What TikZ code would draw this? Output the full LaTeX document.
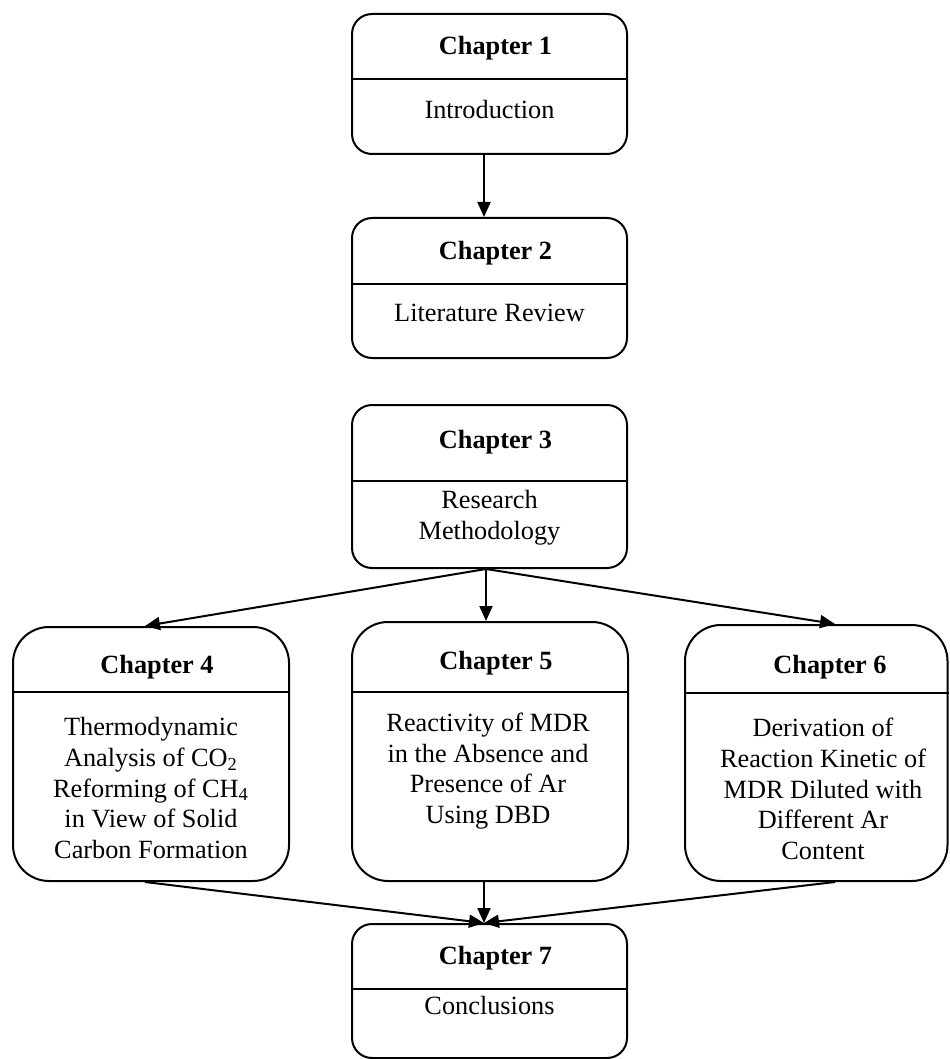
\documentclass[tikz,border=0pt]{standalone}
\usepackage{fontspec}
\setmainfont{Liberation Serif}
\usetikzlibrary{arrows.meta}
\begin{document}
\begin{tikzpicture}[x=0.5pt,y=-0.5pt,
  smallbox/.style={draw,line width=1pt,rounded corners=10pt,inner sep=0pt,minimum width=137.5pt},
  bigbox/.style={draw,line width=1pt,rounded corners=18pt,inner sep=0pt,minimum width=138pt},
  divider/.style={line width=1pt},
  title/.style={inner sep=0pt,font=\fontsize{13.15}{15.3}\selectfont\bfseries},
  body/.style={inner sep=0pt,align=center,font=\fontsize{13.15}{15.3}\selectfont},
  arr/.style={line width=1pt,-{Triangle[length=7.5pt,width=6.5pt]}}]
\useasboundingbox (0,0) rectangle (949,1059);
\clip (0,0) rectangle (949,1059);

% boxes
\node[smallbox,minimum height=70pt] (ch1) at (489.5,84) {};
\node[smallbox,minimum height=70pt] (ch2) at (489.5,288) {};
\node[smallbox,minimum height=81.5pt] (ch3) at (489.5,486.5) {};
\node[bigbox,minimum height=127pt] (ch4) at (151,754) {};
\node[bigbox,minimum height=129.5pt] (ch5) at (490,751.5) {};
\node[bigbox,minimum height=128pt,minimum width=131.25pt] (ch6) at (816.25,753) {};
\node[smallbox,minimum height=67pt] (ch7) at (489.5,991) {};

% dividers
\draw[divider] ([yshift=-33pt]ch1.north west) -- ([yshift=-33pt]ch1.north east);
\draw[divider] ([yshift=-33.5pt]ch2.north west) -- ([yshift=-33.5pt]ch2.north east);
\draw[divider] ([yshift=-38.5pt]ch3.north west) -- ([yshift=-38.5pt]ch3.north east);
\draw[divider] ([yshift=-33pt]ch4.north west) -- ([yshift=-33pt]ch4.north east);
\draw[divider] ([yshift=-35.5pt]ch5.north west) -- ([yshift=-35.5pt]ch5.north east);
\draw[divider] ([yshift=-34.5pt]ch6.north west) -- ([yshift=-34.5pt]ch6.north east);
\draw[divider] ([yshift=-33pt]ch7.north west) -- ([yshift=-33pt]ch7.north east);

% titles
\node[title] (t1) at (495.5,48) {Chapter 1};
\node[title] (t2) at (495.5,253) {Chapter 2};
\node[title] (t3) at (495.5,442) {Chapter 3};
\node[title] (t4) at (157,667) {Chapter 4};
\node[title] (t5) at (496,663) {Chapter 5};
\node[title] (t6) at (830,667) {Chapter 6};
\node[title] (t7) at (495.5,958) {Chapter 7};

% bodies
\node[body] (b1) at (489.5,110) {Introduction};
\node[body] (b2) at (489.5,313) {Literature Review};
\node[body] (b3) at (489.5,518) {Research\\Methodology};
\node[body] (b4) at (151,788) {Thermodynamic\\Analysis of CO\textsubscript{2}\\Reforming of CH\textsubscript{4}\\in View of Solid\\Carbon Formation};
\node[body] (b5) at (488,771) {Reactivity of MDR\\in the Absence and\\Presence of Ar\\Using DBD};
\node[body] (b6) at (823,789) {Derivation of\\Reaction Kinetic of\\MDR Diluted with\\Different Ar\\Content};
\node[body] (b7) at (489.5,1005) {Conclusions};

% connector x positions
\coordinate (xa) at (484,0);
\coordinate (xb) at (486,0);
\coordinate (x4) at (145,0);
\coordinate (x6) at (835,0);

% connectors
\draw[arr] (ch1.south -| xa) -- (ch2.north -| xa);
\draw[arr] (ch3.south -| xb) -- (ch5.north -| xb);
\draw[arr] (ch3.south -| xb) -- (ch4.north -| x4);
\draw[arr] (ch3.south -| xb) -- (ch6.north -| x6);
\draw[arr] (ch5.south -| xa) -- (ch7.north -| xa);
\draw[arr] (ch4.south -| x4) -- (ch7.north -| xa);
\draw[arr] (ch6.south -| x6) -- (ch7.north -| xa);
\end{tikzpicture}
\end{document}
